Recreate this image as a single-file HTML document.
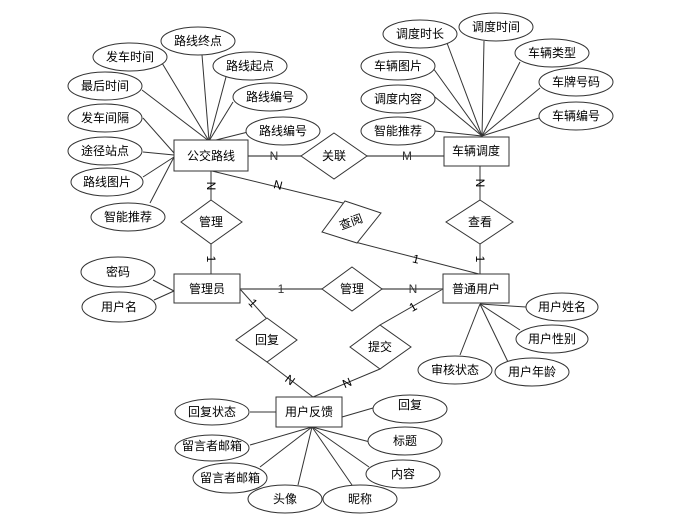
<!DOCTYPE html>
<html><head><meta charset="utf-8"><style>
html,body{margin:0;padding:0;background:#fff;}
svg{display:block;}
text{font-family:"Liberation Sans","Noto Sans CJK SC",sans-serif;font-size:12px;fill:#000;text-anchor:middle;dominant-baseline:central;}
.l{stroke:#333;stroke-width:1;fill:none;}
.h{stroke:#666;stroke-width:1.6;fill:none;}
.s{fill:#fff;stroke:#333;stroke-width:1;}
</style></head><body>
<svg width="687" height="526" viewBox="0 0 687 526">
<!-- 公交路线 attribute lines -->
<g class="l">
<line x1="202" y1="55" x2="209" y2="141"/>
<line x1="162" y1="63" x2="209" y2="141"/>
<line x1="226" y1="77" x2="209" y2="141"/>
<line x1="142" y1="90" x2="209" y2="141"/>
<line x1="233" y1="102" x2="209" y2="141"/>
<line x1="143" y1="118" x2="174" y2="153"/>
<line x1="248" y1="132" x2="212" y2="141"/>
<line x1="143" y1="152" x2="174" y2="155"/>
<line x1="143" y1="177" x2="174" y2="157"/>
<line x1="150" y1="203" x2="174" y2="157"/>
<!-- 车辆调度 -->
<line x1="447" y1="43" x2="482" y2="136"/>
<line x1="484" y1="41" x2="482" y2="136"/>
<line x1="520" y1="62" x2="482" y2="136"/>
<line x1="433" y1="68" x2="482" y2="136"/>
<line x1="540" y1="88" x2="482" y2="136"/>
<line x1="435" y1="97" x2="482" y2="136"/>
<line x1="539" y1="118" x2="482" y2="136"/>
<line x1="435" y1="131" x2="482" y2="136"/>
<!-- 管理员 attrs -->
<line x1="153" y1="280" x2="174" y2="291"/>
<line x1="154" y1="300" x2="174" y2="291"/>
<!-- 普通用户 attrs -->
<line x1="526" y1="307" x2="480" y2="304"/>
<line x1="520" y1="330" x2="480" y2="304"/>
<line x1="508" y1="362" x2="480" y2="304"/>
<line x1="460" y1="355" x2="480" y2="304"/>
<!-- 用户反馈 attrs -->
<line x1="250" y1="412" x2="276" y2="412"/>
<line x1="342" y1="417" x2="373" y2="408"/>
<line x1="250" y1="445" x2="312" y2="427"/>
<line x1="370" y1="442" x2="312" y2="427"/>
<line x1="260" y1="467" x2="312" y2="427"/>
<line x1="369" y1="467" x2="312" y2="427"/>
<line x1="298" y1="485" x2="312" y2="427"/>
<line x1="352" y1="485" x2="312" y2="427"/>
<!-- relationships -->
<line x1="211" y1="171" x2="211" y2="200"/>
<line x1="211" y1="244" x2="211" y2="274"/>
<line x1="480" y1="166" x2="480" y2="200"/>
<line x1="480" y1="244" x2="480" y2="274"/>
<line x1="212" y1="171" x2="343" y2="203"/>
<line x1="355" y1="242" x2="479" y2="274"/>
<line x1="240" y1="289" x2="266" y2="318"/>
<line x1="267" y1="362" x2="313" y2="397"/>
<line x1="443" y1="289" x2="380" y2="325"/>
<line x1="380" y1="369" x2="313" y2="397"/>
</g>
<g class="h">
<line x1="248" y1="156" x2="301" y2="156"/>
<line x1="367" y1="156" x2="444" y2="156"/>
<line x1="240" y1="289" x2="322" y2="289"/>
<line x1="382" y1="289" x2="443" y2="289"/>
</g>
<!-- ellipses -->
<g class="s">
<ellipse cx="198" cy="41" rx="37" ry="14"/>
<ellipse cx="130" cy="57" rx="37" ry="14"/>
<ellipse cx="250" cy="66" rx="37" ry="14"/>
<ellipse cx="105" cy="86" rx="37" ry="14"/>
<ellipse cx="270" cy="97" rx="37" ry="14"/>
<ellipse cx="105" cy="118" rx="37" ry="14"/>
<ellipse cx="283" cy="131" rx="37" ry="14"/>
<ellipse cx="105" cy="151" rx="37" ry="14"/>
<ellipse cx="107" cy="182" rx="36" ry="14"/>
<ellipse cx="128" cy="217" rx="37" ry="14"/>
<ellipse cx="420" cy="34" rx="37" ry="14"/>
<ellipse cx="496" cy="27" rx="37" ry="14"/>
<ellipse cx="552" cy="53" rx="37" ry="14"/>
<ellipse cx="398" cy="66" rx="37" ry="14"/>
<ellipse cx="576" cy="82" rx="37" ry="14"/>
<ellipse cx="398" cy="99" rx="37" ry="14"/>
<ellipse cx="576" cy="116" rx="37" ry="14"/>
<ellipse cx="398" cy="131" rx="37" ry="14"/>
<ellipse cx="118" cy="272" rx="37" ry="15"/>
<ellipse cx="119" cy="307" rx="37" ry="15"/>
<ellipse cx="562" cy="307" rx="36" ry="14"/>
<ellipse cx="552" cy="339" rx="36" ry="14"/>
<ellipse cx="532" cy="372" rx="37" ry="14"/>
<ellipse cx="455" cy="370" rx="37" ry="14"/>
<ellipse cx="212" cy="412" rx="37" ry="13"/>
<ellipse cx="410" cy="409" rx="37" ry="14"/>
<ellipse cx="212" cy="448" rx="37" ry="13"/>
<ellipse cx="405" cy="441" rx="37" ry="14"/>
<ellipse cx="230" cy="478" rx="37" ry="15"/>
<ellipse cx="403" cy="474" rx="37" ry="14"/>
<ellipse cx="285" cy="499" rx="37" ry="14"/>
<ellipse cx="360" cy="499" rx="37" ry="14"/>
<!-- entities -->
<rect x="174" y="140" width="74" height="31"/>
<rect x="444" y="137" width="65" height="29"/>
<rect x="174" y="274" width="66" height="29"/>
<rect x="443" y="274" width="66" height="29"/>
<rect x="276" y="397" width="66" height="30"/>
<!-- diamonds -->
<polygon points="334,133 367,156 334,179 301,156"/>
<polygon points="211,200 242,222 211,244 181,222"/>
<polygon points="480,200 513,222 480,244 446,222"/>
<polygon points="352,267 382,289 352,311 322,289"/>
<polygon points="345,201 381,213 357,243 322,232"/>
<polygon points="267,318 297,340 267,362 236,340"/>
<polygon points="380,325 411,347 380,369 350,347"/>
</g>
<!-- text -->
<g>
<text x="198" y="41">路线终点</text>
<text x="130" y="57">发车时间</text>
<text x="250" y="66">路线起点</text>
<text x="105" y="86">最后时间</text>
<text x="270" y="97">路线编号</text>
<text x="105" y="118">发车间隔</text>
<text x="283" y="131">路线编号</text>
<text x="105" y="151">途径站点</text>
<text x="107" y="182">路线图片</text>
<text x="128" y="217">智能推荐</text>
<text x="420" y="34">调度时长</text>
<text x="496" y="27">调度时间</text>
<text x="552" y="53">车辆类型</text>
<text x="398" y="66">车辆图片</text>
<text x="576" y="82">车牌号码</text>
<text x="398" y="99">调度内容</text>
<text x="576" y="116">车辆编号</text>
<text x="398" y="131">智能推荐</text>
<text x="118" y="272">密码</text>
<text x="119" y="307">用户名</text>
<text x="562" y="307">用户姓名</text>
<text x="552" y="339">用户性别</text>
<text x="532" y="372">用户年龄</text>
<text x="455" y="370">审核状态</text>
<text x="212" y="412">回复状态</text>
<text x="410" y="405">回复</text>
<text x="212" y="446">留言者邮箱</text>
<text x="405" y="441">标题</text>
<text x="230" y="478">留言者邮箱</text>
<text x="403" y="474">内容</text>
<text x="285" y="499">头像</text>
<text x="360" y="499">昵称</text>
<text x="211" y="156">公交路线</text>
<text x="476" y="151">车辆调度</text>
<text x="207" y="289">管理员</text>
<text x="476" y="289">普通用户</text>
<text x="309" y="412">用户反馈</text>
<text x="334" y="156">关联</text>
<text x="211" y="222">管理</text>
<text x="480" y="222">查看</text>
<text x="352" y="289">管理</text>
<text x="351" y="222" transform="rotate(-20 351 222)">查阅</text>
<text x="267" y="340">回复</text>
<text x="380" y="347">提交</text>
<!-- cardinalities -->
<text x="274" y="156" style="fill:#333">N</text>
<text x="407" y="156" style="fill:#333">M</text>
<text x="281" y="289" style="fill:#333">1</text>
<text x="413" y="289" style="fill:#333">N</text>
<text x="211" y="186" transform="rotate(90 211 186)">N</text>
<text x="211" y="259" transform="rotate(90 211 259)">1</text>
<text x="480" y="183" transform="rotate(90 480 183)">N</text>
<text x="480" y="259" transform="rotate(90 480 259)">1</text>
<text x="278" y="185" transform="rotate(14 278 185)">N</text>
<text x="416" y="259" transform="rotate(14 416 259)">1</text>
<text x="253" y="303" transform="rotate(48 253 303)">1</text>
<text x="290" y="380" transform="rotate(37 290 380)">N</text>
<text x="413" y="307" transform="rotate(-30 413 307)">1</text>
<text x="347" y="383" transform="rotate(-23 347 383)">N</text>
</g>
</svg>
</body></html>
